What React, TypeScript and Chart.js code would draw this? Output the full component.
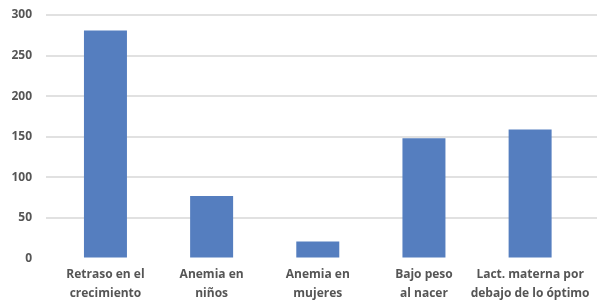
import React, { useEffect, useRef } from "react";
import { Chart, registerables } from "chart.js";

Chart.register(...registerables);

const categories: string[][] = [
  ["Retraso en el", "crecimiento"],
  ["Anemia en", "niños"],
  ["Anemia en", "mujeres"],
  ["Bajo peso", "al nacer"],
  ["Lact. materna por", "debajo de lo óptimo"],
];
const values: number[] = [281, 77, 21, 148, 159];
const yTicks: number[] = [0, 50, 100, 150, 200, 250, 300];

const FONT = "'Open Sans'";

export default function App() {
  const ref = useRef<HTMLCanvasElement>(null);
  useEffect(() => {
    document.body.style.margin = "0";
    const ctx = ref.current!;
    const chart = new Chart(ctx, {
      type: "bar",
      data: {
        datasets: [
          {
            data: values.map((v, i) => ({ x: i, y: v })),
            backgroundColor: "#557EBF",
            categoryPercentage: 1,
            barPercentage: 0.405,
          },
        ],
      },
      options: {
        animation: false,
        responsive: false,
        devicePixelRatio: 1,
        layout: { padding: { top: 15, left: 0, right: 0, bottom: 0 } },
        plugins: { legend: { display: false }, tooltip: { enabled: false } },
        scales: {
          x: {
            type: "linear",
            offset: false,
            min: -0.56,
            max: 4.63,
            afterBuildTicks: (scale: any) => {
              scale.ticks = categories.map((_, i) => ({ value: i }));
            },
            afterFit: (scale: any) => {
              scale.height = 46.5;
            },
            grid: { display: false, drawTicks: false, offset: false },
            border: { display: false },
            ticks: {
              padding: 7,
              maxRotation: 0,
              autoSkip: false,
              color: "#555555",
              font: { family: FONT, size: 12, weight: "bold", lineHeight: 1.55 },
              callback: (v: any) => categories[Math.round(Number(v))] ?? "",
            },
          },
          y: {
            min: 0,
            max: 300,
            afterBuildTicks: (scale: any) => {
              scale.ticks = yTicks.map((v) => ({ value: v }));
            },
            afterFit: (scale: any) => {
              scale.width = 46;
              scale.paddingTop = 7;
              scale.paddingBottom = 7;
            },
            grid: {
              drawTicks: false,
              lineWidth: 2,
              color: (c: any) => (c.tick && c.tick.value === 0 ? "rgba(0,0,0,0)" : "#e1e1e1"),
            },
            border: { display: false },
            ticks: {
              padding: 14,
              color: "#555555",
              font: { family: FONT, size: 12, weight: "bold" },
            },
          },
        },
      },
    });
    return () => chart.destroy();
  }, []);
  return <canvas ref={ref} width={597} height={305} style={{ display: "block" }} />;
}
